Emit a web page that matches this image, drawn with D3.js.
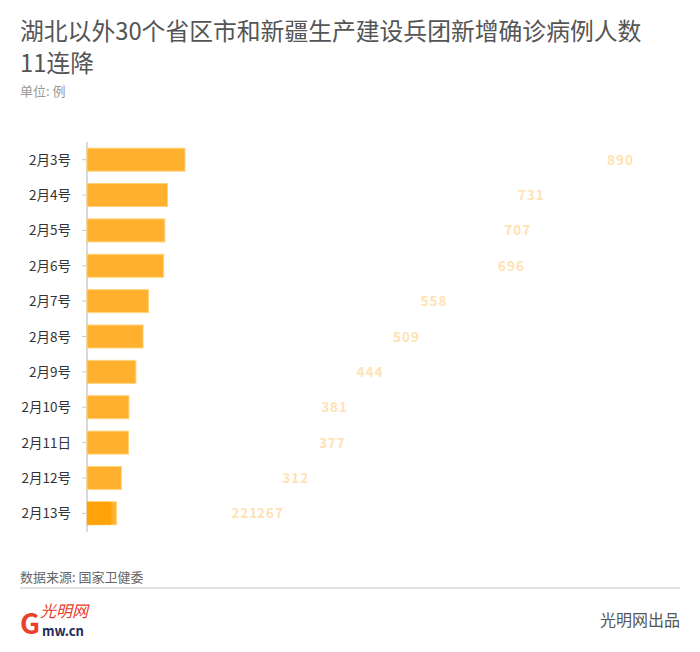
<!DOCTYPE html><html><head><meta charset="utf-8"><script src="https://cdn.jsdelivr.net/npm/d3@7"></script>
<style>body{margin:0;background:#fff;font-family:"Noto Sans CJK SC","Noto Sans",sans-serif}</style></head><body><svg id="c" width="700" height="652"></svg>
<script>
const categories=["2月3号","2月4号","2月5号","2月6号","2月7号","2月8号","2月9号","2月10号","2月11日","2月12号","2月13号"];
const values=[890,731,707,696,558,509,444,381,377,312,267];
const overlayValues=[null,null,null,null,null,null,null,null,null,null,221];
const svg=d3.select("#c");
svg.append("text").attr("x",20).attr("y",40).attr("font-size",23.8).attr("fill","#555").text("湖北以外30个省区市和新疆生产建设兵团新增确诊病例人数");
svg.append("text").attr("x",20).attr("y",72).attr("font-size",23.8).attr("fill","#555").text("11连降");
svg.append("text").attr("x",20).attr("y",96).attr("font-size",13).attr("fill","#999").text("单位: 例");
const y=d3.scaleBand().domain(categories).range([142,531]).paddingInner(0.35).paddingOuter(0.175);
const x=d3.scaleLinear().domain([0,890]).range([87,185]);
const lx=d3.scaleLinear().domain([0,890]).range([134,634]);
const g=svg.append("g");
g.append("line").attr("x1",87).attr("x2",87).attr("y1",142).attr("y2",532).attr("stroke","#ccc").attr("stroke-width",1.5);
categories.forEach((c,i)=>{
  const yc=y(c)+y.bandwidth()/2;
  g.append("line").attr("x1",82).attr("x2",86).attr("y1",yc).attr("y2",yc).attr("stroke","#ccc");
  g.append("text").attr("x",71).attr("y",yc+5).attr("text-anchor","end").attr("font-size",13.5).attr("fill","#333").text(c);
  g.append("rect").attr("x",x(0)).attr("y",y(c)).attr("width",x(values[i])-x(0)).attr("height",y.bandwidth()).attr("fill","#ffb02e").attr("stroke","#ffd27a").attr("stroke-width",1);
  if(overlayValues[i]!=null){
    g.append("rect").attr("x",x(0)).attr("y",y(c)).attr("width",x(overlayValues[i])-x(0)).attr("height",y.bandwidth()).attr("fill","#ffa308");
    g.append("text").attr("x",lx(overlayValues[i])).attr("y",yc+5).attr("text-anchor","end").attr("font-size",13.5).attr("font-weight","bold").attr("letter-spacing",1).attr("fill","#ffe2b3").text(overlayValues[i]);
  }
  g.append("text").attr("x",lx(values[i])).attr("y",yc+5).attr("text-anchor","end").attr("font-size",13.5).attr("font-weight","bold").attr("letter-spacing",1).attr("fill","#ffe2b3").text(values[i]);
});
svg.append("text").attr("x",20).attr("y",582).attr("font-size",13).attr("fill","#666").text("数据来源: 国家卫健委");
svg.append("rect").attr("x",20).attr("y",587).attr("width",660).attr("height",2).attr("fill","#e3e3e3");
svg.append("text").attr("x",20).attr("y",634).attr("font-size",28).attr("font-weight","bold").attr("fill","#e8402a").text("G");
svg.append("text").attr("x",40).attr("y",617).attr("font-size",16).attr("font-style","italic").attr("fill","#e8402a").text("光明网");
svg.append("text").attr("x",42).attr("y",636).attr("font-size",13).attr("font-weight","bold").attr("fill","#1f2a5a").text("mw.cn");
svg.append("text").attr("x",680).attr("y",626).attr("text-anchor","end").attr("font-size",16).attr("fill","#555").text("光明网出品");
</script></body></html>
